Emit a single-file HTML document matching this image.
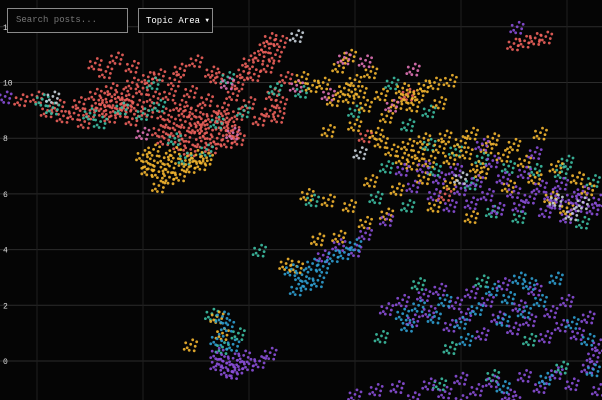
<!DOCTYPE html>
<html><head><meta charset="utf-8"><style>
html,body{margin:0;padding:0;background:#050505;width:602px;height:400px;overflow:hidden;font-family:"Liberation Mono",monospace}
#chart{position:absolute;left:0;top:0}
.ui{position:absolute;top:8px;border:1px solid #8a8a8a;background:#050505;box-sizing:border-box;height:25px;font-size:9px;line-height:23px;white-space:nowrap;overflow:hidden}
</style></head><body>
<svg id="chart" width="602" height="400"></svg>
<div class="ui" style="left:7px;width:121px;color:#777;padding-left:8px">Search posts...</div>
<div class="ui" style="left:138px;width:75px;color:#fff;padding-left:7px">Topic Area <span style="font-size:6px;vertical-align:1px">&#9660;</span></div>
<script>
const yTicks=[0,2,4,6,8,10,12];
const xTicks=[-4,-2,0,2,4,6];
const coral=[[-4.3,9.4],[-4.0,9.5],[-3.8,9.0],[-3.6,9.2],[-3.5,8.8],[-3.3,8.9],[-3.2,9.3],[-3.1,8.6],[-3.0,9.0],[-2.9,9.6],[-2.8,9.2],[-2.7,9.4],[-2.6,8.8],[-2.6,9.8],[-2.5,9.3],[-2.4,9.0],[-2.4,9.6],[-2.3,9.4],[-2.2,8.7],[-2.2,10.0],[-2.1,9.2],[-2.0,9.8],[-1.9,9.0],[-1.8,9.5],[-1.7,10.3],[-1.6,8.9],[-1.5,9.6],[-1.4,10.1],[-1.3,9.2],[-1.2,8.6],[-1.1,9.7],[-1.0,9.0],[-0.9,8.4],[-0.8,9.4],[-0.7,8.8],[-0.6,10.2],[-0.5,9.1],[-0.4,8.5],[-0.3,9.6],[-0.2,8.9],[0.0,9.3],[0.2,8.7],[0.4,9.0],[-2.9,10.7],[-2.7,10.4],[-2.5,10.9],[-2.2,10.6],[-1.9,10.2],[-1.3,10.5],[-1.0,10.8],[-0.7,10.4],[-1.6,8.0],[-1.4,8.3],[-1.3,7.8],[-1.2,8.1],[-1.1,7.6],[-1.0,8.4],[-0.9,7.9],[-0.8,8.2],[-0.7,7.7],[-0.6,8.0],[-0.5,8.5],[-0.4,7.9],[-0.3,8.3],[-0.2,8.0],[-1.5,8.6],[-0.9,8.7],[-0.2,10.0],[-0.1,10.4],[0.0,10.8],[0.1,10.3],[0.2,11.0],[0.3,11.3],[0.35,10.6],[0.4,11.6],[0.5,11.0],[0.6,11.5],[0.7,10.2],[0.45,9.6],[0.55,8.8],[0.6,9.3],[5.0,11.4],[5.2,11.5],[5.4,11.6],[5.6,11.65],[3.0,9.6],[2.2,8.1],[3.7,6.0],[-2.7,9.0],[-2.3,9.2],[-1.7,8.3],[-1.2,9.0],[-0.5,8.8]];
const teal=[[-3.7,9.1],[-3.0,8.9],[-2.8,8.6],[-2.4,9.1],[-2.0,8.9],[-1.7,9.2],[-1.4,8.0],[-1.2,7.3],[-0.8,7.6],[-0.6,8.6],[-0.1,9.0],[0.5,9.8],[-0.4,10.2],[-1.8,10.0],[-3.9,9.4],[1.0,9.7],[2.0,9.0],[2.7,10.0],[3.4,9.0],[3.0,8.5],[2.6,7.0],[3.4,7.8],[3.9,7.6],[4.4,7.3],[4.9,7.0],[5.4,6.9],[5.9,6.8],[6.3,5.0],[5.1,5.2],[4.2,6.4],[3.5,6.9],[2.4,5.9],[1.2,5.8],[3.0,5.6],[4.6,5.4],[6.5,6.5],[6.0,7.2],[3.2,2.8],[4.4,2.9],[5.3,0.8],[3.8,0.5],[2.5,0.9],[4.6,-0.5],[3.6,-0.8],[5.9,-0.2],[-0.5,0.5],[-0.2,1.0],[-0.7,1.7],[0.2,4.0]];
const yellow=[[-2.0,7.4],[-1.9,7.1],[-1.8,7.6],[-1.7,6.8],[-1.6,7.3],[-1.5,7.0],[-1.4,7.5],[-1.3,6.7],[-1.2,7.2],[-1.1,7.0],[-1.0,7.4],[-0.9,7.1],[-1.7,6.3],[-1.5,6.6],[-1.9,6.9],[-0.8,7.3],[1.0,10.2],[1.2,9.9],[1.4,10.0],[1.6,9.4],[1.7,10.6],[1.8,9.8],[1.9,11.0],[1.9,9.5],[2.0,10.1],[2.1,9.7],[2.2,9.2],[2.3,10.4],[2.5,9.6],[2.6,8.8],[2.8,9.3],[2.9,9.8],[3.0,9.5],[3.1,9.2],[3.2,9.6],[3.3,9.9],[3.5,10.0],[3.6,9.3],[3.8,10.1],[1.5,8.3],[2.0,8.5],[2.4,8.2],[2.5,7.9],[2.7,7.6],[2.9,7.3],[3.0,7.8],[3.1,7.1],[3.2,7.5],[3.3,8.0],[3.4,7.2],[3.6,7.7],[3.7,8.1],[3.8,7.3],[4.0,7.9],[4.1,7.5],[4.2,8.2],[4.3,7.0],[4.5,7.7],[4.6,8.0],[4.8,7.4],[5.0,7.8],[5.2,7.2],[5.5,8.2],[5.8,7.0],[6.2,6.6],[2.3,6.5],[2.8,6.2],[3.3,6.6],[3.8,6.4],[4.4,6.8],[4.9,6.3],[5.4,6.6],[1.1,6.0],[1.5,5.8],[1.9,5.6],[2.2,5.0],[2.6,5.3],[3.5,5.6],[4.2,5.2],[1.3,4.4],[0.9,3.4],[0.7,3.5],[1.7,4.5],[5.7,5.9],[6.0,5.5],[6.4,6.2],[-0.6,1.6],[-0.5,1.0],[-1.1,0.6]];
const purple=[[2.9,6.9],[3.1,6.3],[3.3,7.0],[3.5,6.0],[3.6,6.6],[3.8,5.6],[3.9,6.9],[4.0,6.2],[4.2,5.7],[4.3,6.5],[4.5,6.0],[4.6,7.2],[4.7,5.5],[4.8,6.6],[5.0,6.1],[5.1,5.6],[5.2,6.8],[5.3,5.9],[5.5,6.3],[5.6,5.4],[5.7,6.0],[5.8,5.7],[5.9,6.4],[6.0,5.2],[6.1,5.9],[6.2,5.6],[6.3,6.1],[6.5,5.5],[6.6,5.8],[2.2,4.6],[2.6,5.1],[1.7,4.2],[1.4,3.8],[2.0,4.0],[5.4,7.5],[4.4,7.8],[2.6,1.9],[2.9,2.2],[3.1,1.5],[3.3,2.4],[3.4,1.8],[3.6,2.6],[3.8,1.3],[3.9,2.1],[4.1,1.7],[4.2,2.5],[4.4,1.0],[4.5,2.2],[4.7,1.6],[4.8,2.8],[5.0,1.2],[5.1,2.0],[5.3,1.5],[5.4,2.6],[5.6,0.9],[5.7,1.8],[5.9,1.3],[6.0,2.2],[6.2,1.0],[6.4,1.6],[6.6,0.6],[6.5,0.2],[2.0,-1.2],[2.4,-1.0],[2.8,-0.9],[3.1,-1.3],[3.4,-0.8],[3.7,-1.1],[4.0,-0.6],[4.3,-1.0],[4.6,-0.7],[4.9,-1.2],[5.2,-0.5],[5.5,-0.9],[5.8,-0.4],[6.1,-0.8],[6.4,-0.2],[6.6,-1.0],[4.0,-1.4],[5.0,-1.4],[-0.6,0.3],[-0.5,0.0],[-0.4,-0.3],[-0.3,0.1],[-0.2,-0.2],[-0.1,0.2],[0.0,-0.1],[0.2,0.0],[0.4,0.3],[-0.6,-0.1],[-0.3,-0.4],[-4.6,9.5],[5.06,12.0]];
const blue=[[0.8,3.3],[1.0,3.1],[1.2,3.5],[1.4,3.4],[1.6,3.8],[1.8,3.9],[2.0,4.2],[1.1,2.8],[1.3,2.9],[0.9,2.6],[2.9,1.7],[3.2,2.0],[3.5,1.6],[3.7,2.2],[4.0,1.4],[4.3,1.9],[4.6,2.6],[4.9,2.3],[5.1,3.0],[5.3,2.8],[5.5,2.2],[5.2,1.8],[4.8,1.5],[3.0,1.3],[4.1,0.8],[5.8,3.0],[6.1,1.4],[6.4,0.8],[6.5,-0.3],[5.6,-0.6],[4.8,-0.9],[-0.5,1.6],[-0.4,1.3],[-0.6,0.8],[-0.3,0.6]];
const pink=[[1.8,10.9],[-0.4,10.0],[1.5,9.6],[2.7,9.2],[-2.0,8.2],[3.1,10.5],[2.2,10.8],[-0.3,8.2],[0.9,9.9]];
const gray=[[0.9,11.7],[-3.7,9.5],[5.8,5.8],[6.3,5.7],[6.1,5.3],[4.0,6.6],[2.1,7.5]];

const NS='http://www.w3.org/2000/svg';
const svg=document.getElementById('chart');
function xs(v){return 249+v*53;}
function ys(v){return 361-v*27.85;}
yTicks.forEach(t=>{
  const l=document.createElementNS(NS,'line');
  
  
  l.setAttribute('x1',0);l.setAttribute('x2',602);l.setAttribute('y1',ys(t));l.setAttribute('y2',ys(t));
  l.setAttribute('stroke','#2c2c2c');l.setAttribute('stroke-width','1');
  svg.appendChild(l);
});
xTicks.forEach(t=>{
  const l=document.createElementNS(NS,'line');
  
  
  l.setAttribute('x1',xs(t));l.setAttribute('x2',xs(t));l.setAttribute('y1',0);l.setAttribute('y2',400);
  l.setAttribute('stroke','#1e1e1e');l.setAttribute('stroke-width','1');
  svg.appendChild(l);
});
yTicks.forEach(t=>{
  const tx=document.createElementNS(NS,'text');
  
  
  tx.setAttribute('x',3);tx.setAttribute('y',ys(t)+3);
  tx.setAttribute('fill','#ddd');tx.setAttribute('font-size','8');
  tx.setAttribute('font-family','Liberation Mono, monospace');
  tx.textContent=t;
  svg.appendChild(tx);
});
const offs=[[0,0],[4.5,2.0],[-3.5,3.5],[2.0,-4.5],[-5.0,-1.5],[6.0,-2.5],[-1.5,6.0],[-6.5,5.0],[3.5,6.5]];
function draw(arr,color,name){
  const g=document.createElementNS(NS,'g');
  
  
  arr.forEach(p=>{
    const m=document.createElementNS(NS,'g');
    
    
    offs.forEach(o=>{
      const c=document.createElementNS(NS,'circle');
      c.setAttribute('cx',xs(p[0])+o[0]);c.setAttribute('cy',ys(p[1])+o[1]);
      c.setAttribute('r',1.4);c.setAttribute('fill',color);c.setAttribute('opacity','0.9');
      m.appendChild(c);
    });
    g.appendChild(m);
  });
  svg.appendChild(g);
}
draw(coral,'#ee625c','coral');
draw(teal,'#3dbfa3','teal');
draw(yellow,'#f4b630','yellow');
draw(purple,'#8b4fd9','purple');
draw(blue,'#2f9fd2','blue');
draw(pink,'#e073b6','pink');
draw(gray,'#c9d2da','gray');
</script>
</body></html>
